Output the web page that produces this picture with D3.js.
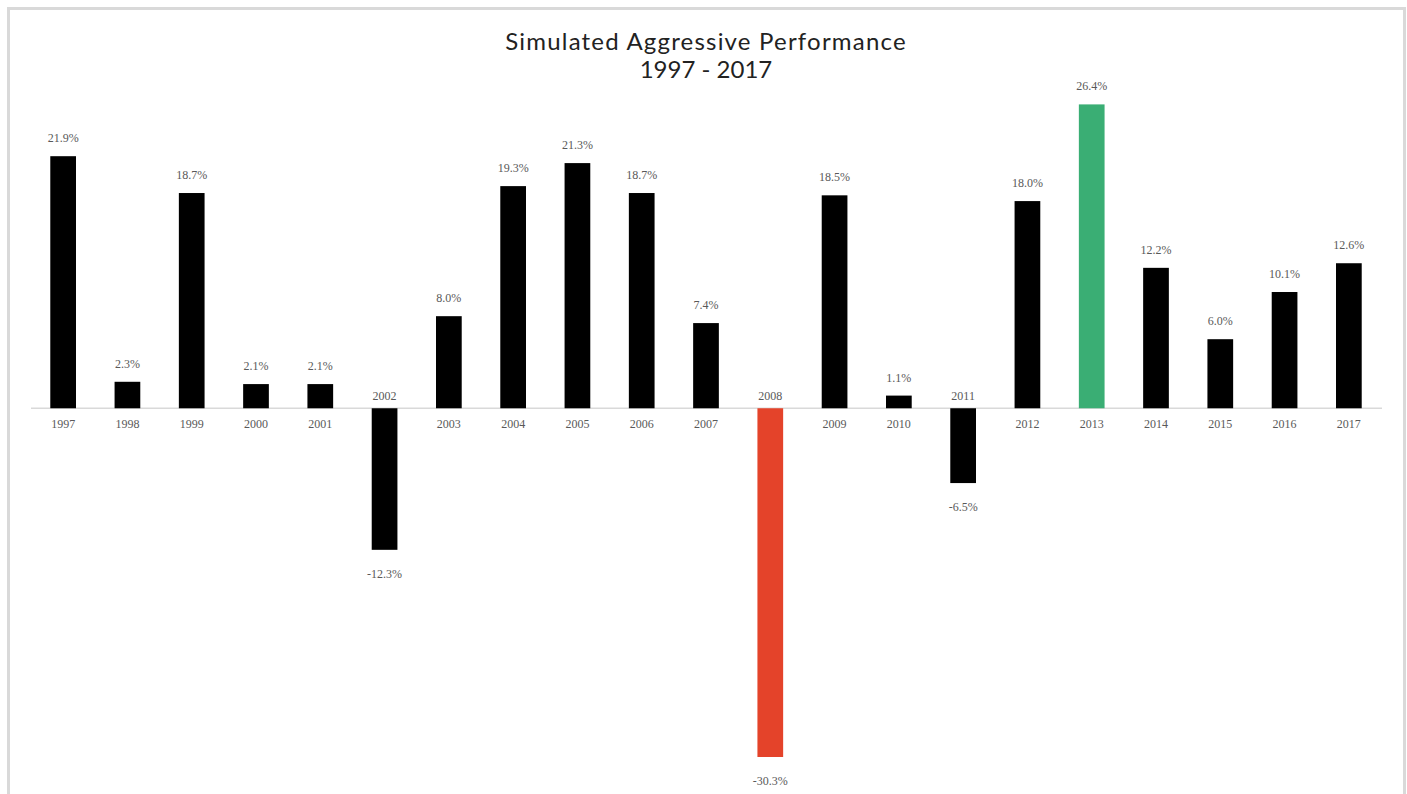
<!DOCTYPE html>
<html>
<head>
<meta charset="utf-8">
<script src="https://cdn.jsdelivr.net/npm/d3@7"></script>
<style>
  body { margin: 0; background: #fff; }
  svg { display: block; }
</style>
</head>
<body>
<svg id="chart" width="1407" height="794"></svg>
<script>
// data
const years = ["1997", "1998", "1999", "2000", "2001", "2002", "2003", "2004", "2005", "2006", "2007",
               "2008", "2009", "2010", "2011", "2012", "2013", "2014", "2015", "2016", "2017"];
const returns = [21.9, 2.3, 18.7, 2.1, 2.1, -12.3, 8.0, 19.3, 21.3, 18.7, 7.4,
                 -30.3, 18.5, 1.1, -6.5, 18.0, 26.4, 12.2, 6.0, 10.1, 12.6];
const worstYear = "2008";
const bestYear = "2013";

const data = years.map((y, i) => ({ year: y, value: returns[i] }));

const svg = d3.select("#chart");

// outer frame (bottom runs off the page)
svg.append("rect")
    .attr("x", 8.5).attr("y", 8.5)
    .attr("width", 1396).attr("height", 800)
    .attr("fill", "none")
    .attr("stroke", "#d9d9d9")
    .attr("stroke-width", 3);

// title
svg.append("text")
    .attr("x", 706).attr("y", 50)
    .attr("text-anchor", "middle")
    .attr("font-family", "Lato, sans-serif")
    .attr("font-size", 24)
    .attr("letter-spacing", 1.2)
    .attr("fill", "#222")
    .text("Simulated Aggressive Performance");
svg.append("text")
    .attr("x", 706).attr("y", 78)
    .attr("text-anchor", "middle")
    .attr("font-family", "Lato, sans-serif")
    .attr("font-size", 24)
    .attr("fill", "#222")
    .text("1997 - 2017");

const x = d3.scaleBand()
    .domain(years)
    .range([31, 1381])
    .paddingInner(0.6)
    .paddingOuter(0.3);

const y = d3.scaleLinear()
    .domain([-30.3, 26.4])
    .range([757, 104.4]);

// zero line
svg.append("line")
    .attr("x1", 31).attr("x2", 1382)
    .attr("y1", y(0)).attr("y2", y(0))
    .attr("stroke", "#d9d9d9")
    .attr("stroke-width", 1.5);

function barColor(d) {
    if (d.year === worstYear) return "#e4432a";
    if (d.year === bestYear) return "#3aae74";
    return "#000";
}

svg.selectAll(".bar")
    .data(data)
    .enter()
    .append("rect")
    .attr("class", "bar")
    .attr("x", d => x(d.year))
    .attr("width", x.bandwidth())
    .attr("y", d => y(Math.max(0, d.value)))
    .attr("height", d => Math.abs(y(d.value) - y(0)))
    .attr("fill", barColor);

const labelFont = "'Liberation Serif', 'DejaVu Serif', serif";

// value labels
svg.selectAll(".val")
    .data(data)
    .enter()
    .append("text")
    .attr("class", "val")
    .attr("x", d => x(d.year) + x.bandwidth() / 2)
    .attr("y", d => d.value >= 0 ? y(d.value) - 14 : y(d.value) + 28)
    .attr("text-anchor", "middle")
    .attr("font-family", labelFont)
    .attr("font-size", 12)
    .attr("fill", "#595959")
    .text(d => d.value.toFixed(1) + "%");

// year labels, flipped above the line for negative years
svg.selectAll(".yr")
    .data(data)
    .enter()
    .append("text")
    .attr("class", "yr")
    .attr("x", d => x(d.year) + x.bandwidth() / 2)
    .attr("y", d => d.value >= 0 ? y(0) + 20 : y(0) - 8)
    .attr("text-anchor", "middle")
    .attr("font-family", labelFont)
    .attr("font-size", 12)
    .attr("fill", "#595959")
    .text(d => d.year);
</script>
</body>
</html>
